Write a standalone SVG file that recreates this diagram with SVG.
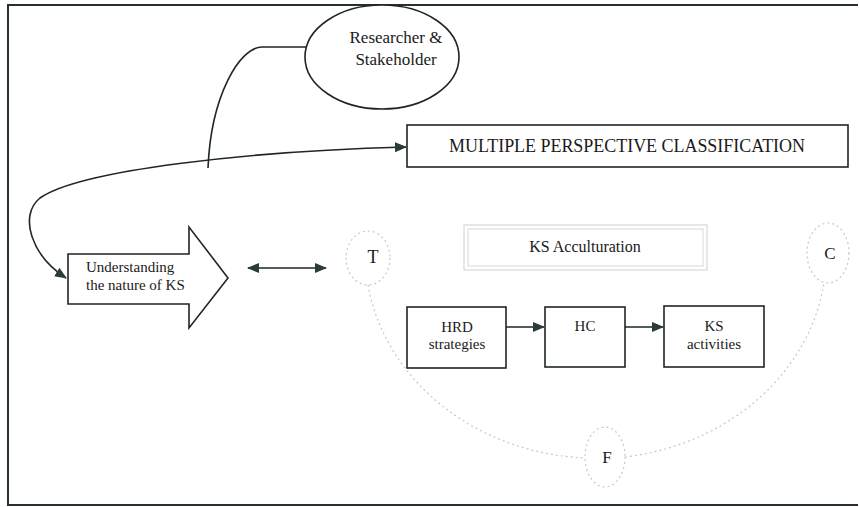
<svg xmlns="http://www.w3.org/2000/svg" width="859" height="507" viewBox="0 0 859 507">
<style>
text{font-family:"Liberation Serif","Times New Roman",serif;fill:#1a1a1a}
.box{fill:#fff;stroke:#1e2626;stroke-width:1.6}
.ln{fill:none;stroke:#1e2626;stroke-width:1.6}
.dash{fill:none;stroke:#c8c8c8;stroke-width:1.2;stroke-dasharray:2 3}
</style>
<defs>
<marker id="ah" viewBox="0 0 12 10" refX="11" refY="5" markerWidth="12" markerHeight="10" markerUnits="userSpaceOnUse" orient="auto-start-reverse">
<path d="M0 0 L12 5 L0 10 Z" fill="#2b3a3a"/>
</marker>
</defs>
<rect width="859" height="507" fill="#fff"/>
<g id="frame">
<path d="M858 5 L8 5 L8 505 L858 505" fill="none" stroke="#253030" stroke-width="2"/>
</g>
<g id="arc">
<path class="dash" d="M368 285 A232 205 0 0 0 585 458"/>
<path class="dash" d="M625 457 A232 205 0 0 0 824 283"/>
</g>
<g id="connectors">
<path class="ln" d="M320 47 L262 47 C240 47 211 95 208 168"/>
<path class="ln" d="M66 278 C32 256 18 216 40 198 C80 170 250 151 406 147" marker-start="url(#ah)" marker-end="url(#ah)"/>
<path class="ln" d="M248 268 L326 268" marker-start="url(#ah)" marker-end="url(#ah)"/>
<path class="ln" d="M506 327 L544 327" marker-end="url(#ah)"/>
<path class="ln" d="M625 327 L663 327" marker-end="url(#ah)"/>
</g>
<g id="researcher">
<ellipse class="box" cx="382" cy="57" rx="77" ry="52"/>
<text x="396" y="43" font-size="17" text-anchor="middle">Researcher &amp;</text>
<text x="396" y="65" font-size="17" text-anchor="middle">Stakeholder</text>
</g>
<g id="mpc">
<rect class="box" x="407" y="125" width="441" height="42"/>
<text x="627" y="152" font-size="18" text-anchor="middle" textLength="356">MULTIPLE PERSPECTIVE CLASSIFICATION</text>
</g>
<g id="understanding">
<path class="box" d="M68 254 L189 254 L189 227 L228 278 L189 328 L189 304 L68 304 Z"/>
<text x="86" y="272" font-size="15">Understanding</text>
<text x="86" y="290" font-size="15">the nature of KS</text>
</g>
<g id="t">
<ellipse class="dash" cx="368" cy="258" rx="22" ry="27"/>
<text x="373" y="263" font-size="18" text-anchor="middle">T</text>
</g>
<g id="c">
<ellipse class="dash" cx="828" cy="253" rx="21" ry="30"/>
<text x="830" y="259" font-size="17" text-anchor="middle">C</text>
</g>
<g id="f">
<ellipse class="dash" cx="605" cy="457" rx="20" ry="30"/>
<text x="607" y="463" font-size="17" text-anchor="middle">F</text>
</g>
<g id="acculturation">
<rect x="464" y="225" width="243" height="45" fill="#fff" stroke="#d0d0d0" stroke-width="1"/>
<rect x="468" y="229" width="235" height="37" fill="none" stroke="#d8d8d8" stroke-width="1"/>
<text x="585" y="252" font-size="16" text-anchor="middle">KS Acculturation</text>
</g>
<g id="hrd">
<rect class="box" x="407" y="307" width="99" height="61"/>
<text x="457" y="332" font-size="15" text-anchor="middle">HRD</text>
<text x="457" y="349" font-size="15" text-anchor="middle">strategies</text>
</g>
<g id="hc">
<rect class="box" x="545" y="307" width="80" height="60"/>
<text x="585" y="331" font-size="15" text-anchor="middle">HC</text>
</g>
<g id="ksact">
<rect class="box" x="664" y="306" width="100" height="61"/>
<text x="714" y="331" font-size="15" text-anchor="middle">KS</text>
<text x="714" y="349" font-size="15" text-anchor="middle">activities</text>
</g>
</svg>
